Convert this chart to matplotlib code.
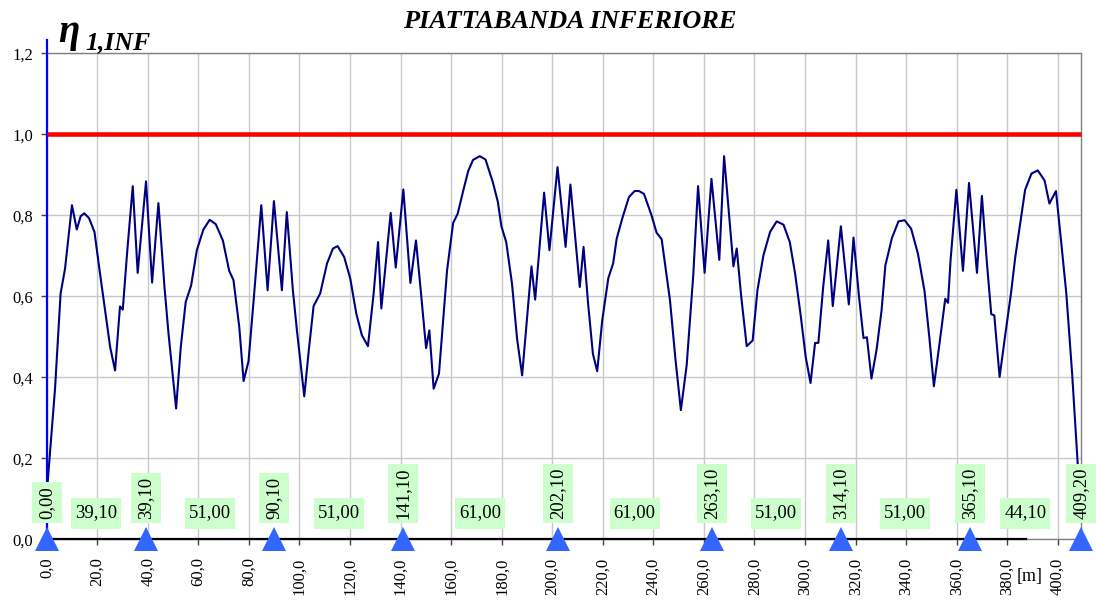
import matplotlib
matplotlib.use('Agg')
import matplotlib.pyplot as plt
from matplotlib.patches import Rectangle
from matplotlib.transforms import IdentityTransform

# ---------------- data ----------------
x_m = [0.0, 3.3, 5.5, 7.25, 10.0, 11.9, 13.45, 14.9, 16.75, 18.9, 21.1, 23.1, 25.1, 27.05,
       29.0, 30.1, 31.9, 34.05, 36.0, 39.3, 41.7, 44.2, 46.6, 48.2, 51.2, 53.05, 55.0, 57.15,
       59.4, 62.0, 64.5, 66.9, 69.7, 72.2, 73.9, 76.2, 77.9, 79.85, 82.0, 84.9, 87.4, 89.9,
       93.05, 95.0, 97.4, 99.0, 101.9, 103.7, 105.6, 108.2, 110.9, 113.25, 115.1, 117.7,
       120.1, 122.5, 124.7, 127.1, 129.35, 131.1, 132.4, 136.1, 138.1, 141.1, 143.9, 146.1,
       148.1, 150.1, 151.4, 153.1, 155.2, 158.4, 160.8, 162.6, 165.0, 166.8, 168.7, 171.35,
       173.6, 176.5, 178.5, 179.9, 181.8, 184.1, 186.1, 188.1, 191.8, 193.25, 196.8, 198.9,
       202.1, 205.3, 207.2, 210.9, 212.4, 214.2, 216.1, 217.8, 219.8, 222.2, 224.1, 225.5,
       227.7, 230.35, 232.6, 234.3, 236.3, 239.3, 241.3, 243.3, 246.6, 248.8, 250.9, 253.2,
       255.8, 257.7, 260.3, 263.0, 266.1, 268.0, 271.7, 273.0, 274.8, 276.95, 279.3, 281.2,
       283.55, 286.2, 288.8, 291.5, 294.0, 296.1, 298.3, 300.3, 302.2, 304.0, 305.3, 307.2,
       309.2, 311.0, 314.2, 317.35, 319.2, 321.4, 323.15, 324.5, 326.3, 328.3, 330.3, 331.8,
       334.4, 337.0, 339.4, 342.0, 344.7, 347.3, 349.2, 351.0, 353.3, 355.5, 356.6, 357.6,
       359.9, 362.5, 364.9, 368.05, 370.0, 372.0, 373.7, 374.9, 377.0, 379.3, 381.5, 383.2,
       385.0, 387.1, 389.6, 392.1, 394.8, 396.7, 399.3, 401.3, 403.4, 405.7, 407.9, 409.2]
eta = [0.11, 0.372, 0.607, 0.668, 0.825, 0.765, 0.798, 0.805, 0.793, 0.759, 0.656, 0.565, 0.475, 0.417,
       0.575, 0.567, 0.714, 0.872, 0.658, 0.884, 0.634, 0.830, 0.623, 0.508, 0.323, 0.475, 0.586, 0.627,
       0.714, 0.765, 0.789, 0.778, 0.738, 0.663, 0.640, 0.524, 0.391, 0.440, 0.600, 0.825, 0.615, 0.835,
       0.615, 0.808, 0.615, 0.516, 0.353, 0.467, 0.576, 0.607, 0.681, 0.718, 0.724, 0.697,
       0.644, 0.557, 0.504, 0.477, 0.607, 0.734, 0.570, 0.806, 0.671, 0.864, 0.633, 0.738,
       0.607, 0.472, 0.516, 0.372, 0.409, 0.664, 0.781, 0.804, 0.866, 0.910, 0.937, 0.946,
       0.938, 0.882, 0.833, 0.773, 0.734, 0.631, 0.495, 0.405, 0.674, 0.592, 0.856, 0.714,
       0.919, 0.722, 0.876, 0.623, 0.722, 0.582, 0.458, 0.415, 0.541, 0.645, 0.681, 0.742,
       0.792, 0.845, 0.860, 0.860, 0.853, 0.800, 0.757, 0.741, 0.590, 0.442, 0.319, 0.430,
       0.652, 0.872, 0.658, 0.890, 0.690, 0.946, 0.674, 0.718, 0.598, 0.477, 0.491, 0.615,
       0.701, 0.759, 0.785, 0.777, 0.734, 0.656, 0.553, 0.450, 0.386, 0.485, 0.485, 0.623,
       0.738, 0.576, 0.773, 0.580, 0.745, 0.598, 0.497, 0.499, 0.397, 0.467, 0.565, 0.676,
       0.744, 0.785, 0.788, 0.767, 0.705, 0.613, 0.499, 0.378, 0.487, 0.594, 0.584, 0.689,
       0.863, 0.663, 0.880, 0.658, 0.848, 0.681, 0.556, 0.553, 0.401, 0.508, 0.607, 0.697,
       0.773, 0.863, 0.903, 0.911, 0.886, 0.829, 0.860, 0.738, 0.607, 0.409, 0.187, 0.11]

supports = [0.0, 39.1, 90.1, 141.1, 202.1, 263.1, 314.1, 365.1, 409.2]
support_labels = ['0,00', '39,10', '90,10', '141,10', '202,10', '263,10', '314,10', '365,10', '409,20']
span_labels = ['39,10', '51,00', '51,00', '61,00', '61,00', '51,00', '51,00', '44,10']
limit_value = 1.0
axis_line_end = 387.5
x_ticks = list(range(0, 401, 20))
y_ticks = [0.0, 0.2, 0.4, 0.6, 0.8, 1.0, 1.2]

# ---------------- figure ----------------
plt.rcParams['font.family'] = ['Liberation Serif', 'DejaVu Serif']
fig = plt.figure(figsize=(10.96, 6.06), dpi=100)
ax = fig.add_axes([0.0426, 0.110, 0.9437, 0.802])
ax.set_xlim(0, supports[-1])
ax.set_ylim(0, 1.2)

ax.set_axisbelow(True)
ax.grid(True, color='#C8C8C8', lw=1.0)

for side in ['top', 'right', 'bottom']:
    ax.spines[side].set_color('#808080')
    ax.spines[side].set_linewidth(1.0)
ax.spines['left'].set_visible(False)

ax.set_xticks(x_ticks)
ax.set_xticklabels([f"{v:.1f}".replace('.', ',') for v in x_ticks], rotation=90)
ax.set_yticks(y_ticks)
ax.set_yticklabels([f"{v:.1f}".replace('.', ',') for v in y_ticks])
ax.tick_params(axis='x', direction='out', length=4, width=1, pad=9, labelsize=12, color='#404040')
ax.tick_params(axis='y', direction='out', length=4, width=1, pad=6, labelsize=12, color='#404040')

# black base line and blue vertical axis line
ax.plot([0, axis_line_end], [0, 0], color='black', lw=1.6, clip_on=False, zorder=3)
ax.plot([0, 0], [0, 1.233], color='#0000FF', lw=1.6, clip_on=False, zorder=3)

# limit line
ax.plot([0, supports[-1]], [limit_value, limit_value], color='#FF0000', lw=3.3,
        solid_capstyle='butt', zorder=4, clip_on=False)

# eta curve
ax.plot(x_m, eta, color='#000080', lw=1.5, zorder=5)

# labels
labels = []
for s, lab in zip(supports, support_labels):
    t = ax.text(s, 0.050, lab, rotation=90, ha='center', va='bottom', fontsize=13.5,
                zorder=6.5, clip_on=False)
    labels.append((t, True))
for i, lab in enumerate(span_labels):
    mid = (supports[i] + supports[i + 1]) / 2
    t = ax.text(mid, 0.065, lab, ha='center', va='center', fontsize=13.5,
                zorder=6.5, clip_on=False)
    labels.append((t, False))

fig.canvas.draw()
renderer = fig.canvas.get_renderer()
for t, vertical in labels:
    bb = t.get_window_extent(renderer)
    padx, pady = (6.5, 4) if vertical else (4, 7)
    rect = Rectangle((bb.x0 - padx, bb.y0 - pady), bb.width + 2 * padx, bb.height + 2 * pady,
                     transform=IdentityTransform(), facecolor='#CCFFCC', edgecolor='none',
                     zorder=6, clip_on=False)
    ax.add_patch(rect)

# supports
ax.plot(supports, [0] * len(supports), linestyle='none', marker='^', ms=17.5,
        color='#3366FF', mew=0, clip_on=False, zorder=7)

# texts
fig.text(0.52, 1 - 21 / 606, 'PIATTABANDA INFERIORE', ha='center', va='center',
         fontsize=19, fontweight='bold', fontstyle='italic')
fig.text(58 / 1096, 1 - 42 / 606, 'η', fontsize=28, fontweight='bold', fontstyle='italic',
         va='baseline', ha='left')
fig.text(85 / 1096, 1 - 49 / 606, '1,INF', fontsize=18.5, fontweight='bold', fontstyle='italic',
         va='baseline', ha='left')
fig.text(1030 / 1096, 1 - 576 / 606, '[m]', ha='center', va='center', fontsize=13)

fig.savefig('out.png', dpi=100)
